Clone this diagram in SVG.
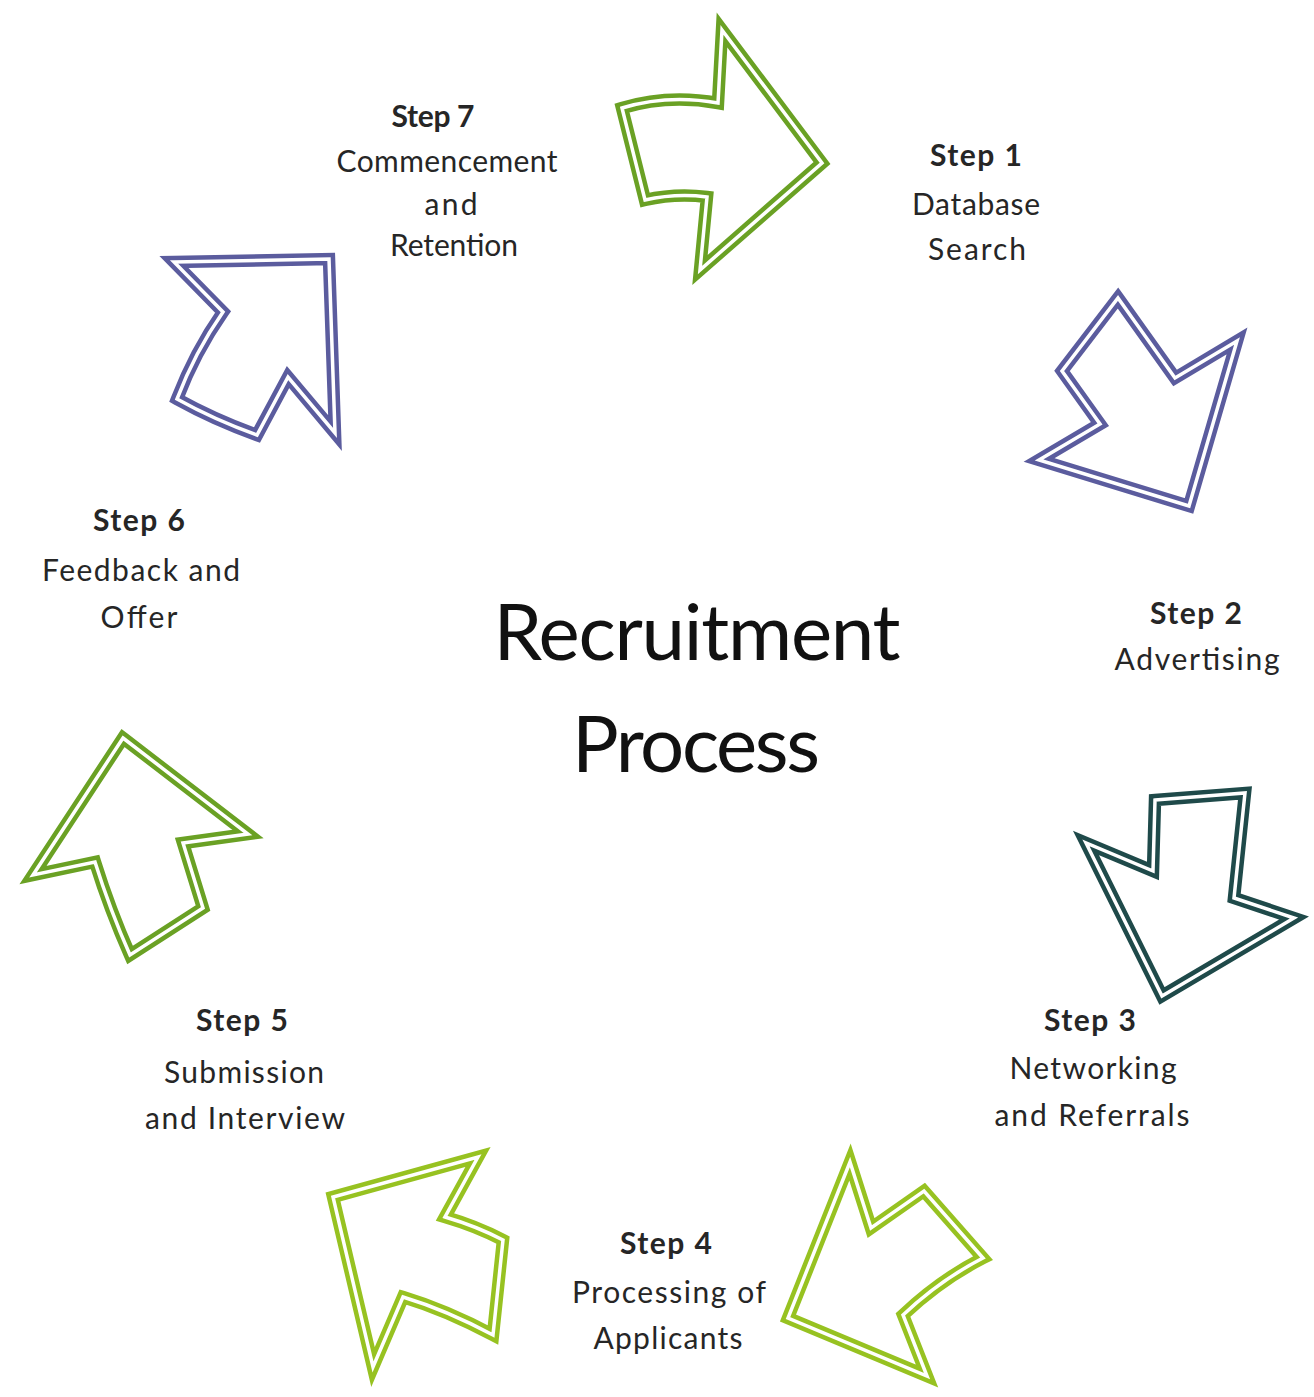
<svg xmlns="http://www.w3.org/2000/svg" width="1314" height="1397" viewBox="0 0 1314 1397">
  <style>
    .lbl { font-family: Lato, "Open Sans", sans-serif; font-size: 30px; fill: #262626; text-anchor: middle; }
    .hd { font-weight: bold; }
    .title { font-family: Lato, "Open Sans", sans-serif; font-size: 78px; fill: #111; text-anchor: middle; }
    .band { fill: none; stroke-width: 12.5; stroke-linejoin: miter; stroke-miterlimit: 12; }
    .gap { fill: none; stroke: #fff; stroke-width: 3.5; stroke-linejoin: miter; stroke-miterlimit: 12; }
    .green { stroke: #6aa124; }
    .violet { stroke: #5b5c9e; }
    .teal { stroke: #1f4a4a; }
    .lime { stroke: #97c221; }
  </style>
  <defs>
    <path id="a1" d="M722,30 L822,163 L700,270 L707,197 Q676,193 645,200 L622,108 Q668,94 718,103 Z"/>
    <path id="a2" d="M1118,298 L1175,378 L1237,341 L1189,506 L1039,460 L1100,424 L1062,371 Z"/>
    <path id="a3" d="M1155,800 L1245,793 L1234,898 L1294,918 L1162,996 L1086,843 L1153,871 Z"/>
    <path id="a4" d="M850,1162 L871,1228 L924,1191 L983,1258 Q940,1280 903,1315 L927,1376 L788,1318 Z"/>
    <path id="a5" d="M478,1157 L445,1217 Q476,1226 503,1240 L493,1335 Q446,1310 403,1297 L373,1367 L333,1197 Z"/>
    <path id="a6" d="M123,738 L248,834 L183,843 L203,908 L130,955 Q110,910 95,862 L33,875 Z"/>
    <path id="a7" d="M174,262 L329,259 L335,433 L288,377 L257,435 Q215,420 177,399 Q195,352 223,312 Z"/>
  </defs>

  <!-- cycle arrows between the steps -->
  <g id="connectors">
    <g id="arrow-7-1"><use href="#a1" class="band green"/><use href="#a1" class="gap"/></g>
    <g id="arrow-1-2"><use href="#a2" class="band violet"/><use href="#a2" class="gap"/></g>
    <g id="arrow-2-3"><use href="#a3" class="band teal"/><use href="#a3" class="gap"/></g>
    <g id="arrow-3-4"><use href="#a4" class="band lime"/><use href="#a4" class="gap"/></g>
    <g id="arrow-4-5"><use href="#a5" class="band lime"/><use href="#a5" class="gap"/></g>
    <g id="arrow-5-6"><use href="#a6" class="band green"/><use href="#a6" class="gap"/></g>
    <g id="arrow-6-7"><use href="#a7" class="band violet"/><use href="#a7" class="gap"/></g>
  </g>

  <g id="title">
    <text class="title" x="697" y="660" textLength="407" lengthAdjust="spacing">Recruitment</text>
    <text class="title" x="696" y="772" textLength="248" lengthAdjust="spacing">Process</text>
  </g>

  <g id="step1">
    <text class="lbl hd" x="976" y="166" textLength="92" lengthAdjust="spacing">Step 1</text>
    <text class="lbl" x="976" y="215" textLength="128" lengthAdjust="spacing">Database</text>
    <text class="lbl" x="977" y="260" textLength="98" lengthAdjust="spacing">Search</text>
  </g>
  <g id="step2">
    <text class="lbl hd" x="1196" y="624" textLength="92" lengthAdjust="spacing">Step 2</text>
    <text class="lbl" x="1197" y="670" textLength="165" lengthAdjust="spacing">Advertising</text>
  </g>
  <g id="step3">
    <text class="lbl hd" x="1090" y="1031" textLength="92" lengthAdjust="spacing">Step 3</text>
    <text class="lbl" x="1093" y="1079" textLength="167" lengthAdjust="spacing">Networking</text>
    <text class="lbl" x="1092" y="1126" textLength="195" lengthAdjust="spacing">and Referrals</text>
  </g>
  <g id="step4">
    <text class="lbl hd" x="666" y="1254" textLength="92" lengthAdjust="spacing">Step 4</text>
    <text class="lbl" x="669" y="1303" textLength="194" lengthAdjust="spacing">Processing of</text>
    <text class="lbl" x="668" y="1349" textLength="149" lengthAdjust="spacing">Applicants</text>
  </g>
  <g id="step5">
    <text class="lbl hd" x="242" y="1031" textLength="92" lengthAdjust="spacing">Step 5</text>
    <text class="lbl" x="244" y="1083" textLength="160" lengthAdjust="spacing">Submission</text>
    <text class="lbl" x="245" y="1129" textLength="200" lengthAdjust="spacing">and Interview</text>
  </g>
  <g id="step6">
    <text class="lbl hd" x="139" y="531" textLength="92" lengthAdjust="spacing">Step 6</text>
    <text class="lbl" x="141" y="581" textLength="198" lengthAdjust="spacing">Feedback and</text>
    <text class="lbl" x="139" y="628" textLength="77" lengthAdjust="spacing">Offer</text>
  </g>
  <g id="step7">
    <text class="lbl hd" x="433" y="127" textLength="83" lengthAdjust="spacing">Step 7</text>
    <text class="lbl" x="447" y="172" textLength="221" lengthAdjust="spacing">Commencement</text>
    <text class="lbl" x="451" y="215" textLength="53" lengthAdjust="spacing">and</text>
    <text class="lbl" x="454" y="256" textLength="128" lengthAdjust="spacing">Retention</text>
  </g>
</svg>
